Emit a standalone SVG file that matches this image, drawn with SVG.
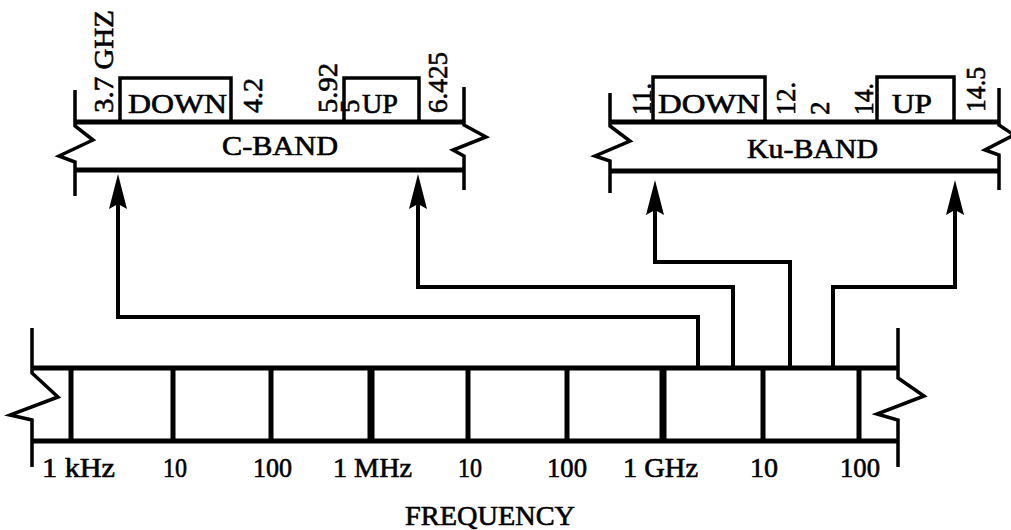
<svg xmlns="http://www.w3.org/2000/svg" width="1011" height="530" viewBox="0 0 1011 530">
<style>
.t{font-family:"Liberation Serif","Times New Roman",serif;font-size:27px;fill:#000;stroke:#000;stroke-width:0.6}
.f{fill:none;stroke:#000;stroke-width:3.5;stroke-linejoin:miter;stroke-linecap:butt}
.b{fill:none;stroke:#000;stroke-width:5}
.tk{stroke:#000;stroke-width:5}
.tk2{stroke:#000;stroke-width:7}
.c{fill:none;stroke:#000;stroke-width:4;stroke-linejoin:miter}
.ah{fill:#000}
</style>
<rect width="1011" height="530" fill="#fff"/>

<g id="cband">
  <path class="f" d="M75,90 L75,126 L93,140 L59,156 L75,162 L75,196"/>
  <path class="f" d="M464,87 L464,125 L486,137 L453,150 L464,156 L464,190"/>
  <line class="b" x1="75" y1="122" x2="465" y2="122"/>
  <line class="b" x1="75" y1="170" x2="465" y2="170"/>
  <path class="f" d="M120,122 L120,78 L231,78 L231,122"/>
  <path class="f" d="M344,122 L344,78 L419,78 L419,122"/>
  <text class="t" x="128" y="113" textLength="99" lengthAdjust="spacingAndGlyphs">DOWN</text>
  <text class="t" x="362" y="113" textLength="36" lengthAdjust="spacingAndGlyphs">UP</text>
  <text class="t" x="222" y="155" textLength="116" lengthAdjust="spacingAndGlyphs">C-BAND</text>
  <text class="t" transform="translate(113,113) rotate(-90)" textLength="103" lengthAdjust="spacingAndGlyphs">3.7 GHZ</text>
  <text class="t" transform="translate(262,113) rotate(-90)" textLength="35" lengthAdjust="spacingAndGlyphs">4.2</text>
  <text class="t" transform="translate(337,113) rotate(-90)" textLength="50" lengthAdjust="spacingAndGlyphs">5.92</text>
  <text class="t" transform="translate(359,113) rotate(-90)">5</text>
  <text class="t" transform="translate(447,113) rotate(-90)" textLength="61" lengthAdjust="spacingAndGlyphs">6.425</text>
</g>

<g id="kuband">
  <path class="f" d="M610,93 L610,126 L630,141 L595,156 L610,161 L610,193"/>
  <path class="f" d="M999,88 L999,125 L1014,135 L985,150 L999,155 L999,190"/>
  <line class="b" x1="610" y1="122" x2="1000" y2="122"/>
  <line class="b" x1="610" y1="171" x2="1000" y2="171"/>
  <path class="f" d="M653,122 L653,77 L765,77 L765,122"/>
  <path class="f" d="M877,122 L877,77 L954,77 L954,122"/>
  <text class="t" x="658" y="113" textLength="102" lengthAdjust="spacingAndGlyphs">DOWN</text>
  <text class="t" x="892" y="113" textLength="40" lengthAdjust="spacingAndGlyphs">UP</text>
  <text class="t" x="747" y="158" textLength="131" lengthAdjust="spacingAndGlyphs">Ku-BAND</text>
  <text class="t" transform="translate(651,115) rotate(-90)" textLength="32" lengthAdjust="spacingAndGlyphs">11.</text>
  <text class="t" transform="translate(795,115) rotate(-90)" textLength="33" lengthAdjust="spacingAndGlyphs">12.</text>
  <text class="t" transform="translate(829,115) rotate(-90)">2</text>
  <text class="t" transform="translate(873,115) rotate(-90)" textLength="32" lengthAdjust="spacingAndGlyphs">14.</text>
  <text class="t" transform="translate(985,112) rotate(-90)" textLength="45" lengthAdjust="spacingAndGlyphs">14.5</text>
</g>

<g id="spectrum">
  <path class="f" d="M32,328 L32,373 L58,397 L10,415 L32,420 L32,467"/>
  <path class="f" d="M898,328 L898,378 L924,396 L877,414 L898,420 L898,467"/>
  <line class="b" x1="32" y1="368" x2="898" y2="368"/>
  <line class="b" x1="32" y1="441" x2="898" y2="441"/>
  <line class="tk" x1="71" y1="368" x2="71" y2="441"/>
  <line class="tk" x1="173" y1="368" x2="173" y2="441"/>
  <line class="tk" x1="271" y1="368" x2="271" y2="441"/>
  <line class="tk2" x1="371" y1="368" x2="371" y2="441"/>
  <line class="tk" x1="468" y1="368" x2="468" y2="441"/>
  <line class="tk" x1="567" y1="368" x2="567" y2="441"/>
  <line class="tk2" x1="663" y1="368" x2="663" y2="441"/>
  <line class="tk" x1="763" y1="368" x2="763" y2="441"/>
  <line class="tk" x1="859" y1="368" x2="859" y2="441"/>
  <text class="t" x="42" y="477" textLength="73" lengthAdjust="spacingAndGlyphs">1 kHz</text>
  <text class="t" x="163" y="477" textLength="24" lengthAdjust="spacingAndGlyphs">10</text>
  <text class="t" x="253" y="477" textLength="39" lengthAdjust="spacingAndGlyphs">100</text>
  <text class="t" x="333" y="477" textLength="79" lengthAdjust="spacingAndGlyphs">1 MHz</text>
  <text class="t" x="458" y="477" textLength="24" lengthAdjust="spacingAndGlyphs">10</text>
  <text class="t" x="547" y="477" textLength="40" lengthAdjust="spacingAndGlyphs">100</text>
  <text class="t" x="623" y="477" textLength="75" lengthAdjust="spacingAndGlyphs">1 GHz</text>
  <text class="t" x="750" y="477" textLength="28" lengthAdjust="spacingAndGlyphs">10</text>
  <text class="t" x="840" y="477" textLength="40" lengthAdjust="spacingAndGlyphs">100</text>
  <text class="t" x="405" y="525" textLength="170" lengthAdjust="spacingAndGlyphs">FREQUENCY</text>
</g>

<g id="connectors">
  <path class="c" d="M698,366 L698,317 L118,317 L118,200"/>
  <path class="c" d="M733,366 L733,287 L418,287 L418,200"/>
  <path class="c" d="M790,366 L790,262 L655,262 L655,205"/>
  <path class="c" d="M833,366 L833,287 L955,287 L955,205"/>
  <polygon class="ah" points="118,174 127,209 118,204 109,209"/>
  <polygon class="ah" points="418,174 427,209 418,204 409,209"/>
  <polygon class="ah" points="655,180 664,215 655,210 646,215"/>
  <polygon class="ah" points="955,180 964,215 955,210 946,215"/>
</g>
</svg>
